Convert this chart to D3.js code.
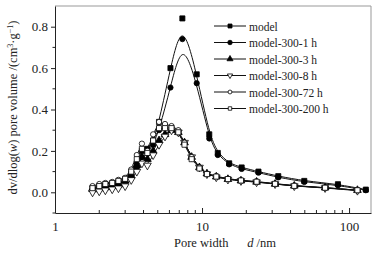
<!DOCTYPE html>
<html>
<head>
<meta charset="utf-8">
<script src="https://cdn.jsdelivr.net/npm/d3@7"></script>
<style>
  body { margin: 0; background: #fff; }
  text { font-family: "Liberation Serif", "DejaVu Serif", serif; fill: #222; }
</style>
</head>
<body>
<div id="chart"></div>
<script>
// pore widths (nm) for the two high-peak series
const widthA = [1.8, 2.0, 2.2, 2.45, 2.7, 3.0, 3.3, 3.6, 3.9, 4.25, 4.65, 5.1, 6.1, 7.35, 9.2, 11.2, 12.8, 15.3, 18.6, 24.2, 33, 49.6, 84, 130];
// pore widths (nm) for the heat-treated low-peak series
const widthB = [1.8, 2.0, 2.2, 2.45, 2.7, 3.0, 3.3, 3.6, 3.9, 4.25, 4.65, 5.1, 5.6, 6.2, 6.9, 7.6, 8.5, 9.6, 10.8, 12.5, 15, 18.4, 23.5, 31.4, 42.4, 68.7, 114];

const model     = [0.02, 0.025, 0.03, 0.04, 0.045, 0.06, 0.09, 0.14, 0.20, 0.21, 0.25, 0.34, 0.60, 0.84, 0.57, 0.28, 0.19, 0.14, 0.12, 0.10, 0.078, 0.055, 0.039, 0.013];
const model1h   = [0.015, 0.02, 0.025, 0.035, 0.04, 0.05, 0.08, 0.12, 0.17, 0.19, 0.23, 0.30, 0.506, 0.74, 0.527, 0.26, 0.18, 0.135, 0.113, 0.095, 0.072, 0.05, 0.034, 0.01];
const model3h   = [0.015, 0.02, 0.025, 0.03, 0.04, 0.055, 0.08, 0.13, 0.17, 0.16, 0.2, 0.25, 0.28, 0.30, 0.29, 0.24, 0.17, 0.12, 0.09, 0.075, 0.063, 0.056, 0.05, 0.04, 0.031, 0.022, 0.01];
const model8h   = [0.0, 0.005, 0.01, 0.015, 0.02, 0.03, 0.06, 0.10, 0.14, 0.13, 0.18, 0.23, 0.27, 0.30, 0.29, 0.24, 0.17, 0.12, 0.088, 0.073, 0.062, 0.055, 0.049, 0.04, 0.03, 0.021, 0.008];
const model72h  = [0.03, 0.04, 0.045, 0.05, 0.06, 0.07, 0.11, 0.18, 0.235, 0.2, 0.28, 0.34, 0.33, 0.32, 0.30, 0.24, 0.17, 0.12, 0.09, 0.078, 0.065, 0.058, 0.052, 0.042, 0.032, 0.023, 0.01];
const model200h = [0.02, 0.03, 0.04, 0.045, 0.055, 0.065, 0.1, 0.16, 0.21, 0.19, 0.25, 0.31, 0.31, 0.31, 0.29, 0.23, 0.16, 0.115, 0.088, 0.076, 0.064, 0.057, 0.051, 0.041, 0.031, 0.022, 0.01];

const seriesNames = ["model", "model-300-1 h", "model-300-3 h", "model-300-8 h", "model-300-72 h", "model-300-200 h"];
const yTicks = [0.0, 0.2, 0.4, 0.6, 0.8];
const xTicks = [1, 10, 100];

const series = [
  {name: seriesNames[0], x: widthA, y: model,     shape: "square",   filled: true},
  {name: seriesNames[1], x: widthA, y: model1h,   shape: "circle",   filled: true},
  {name: seriesNames[2], x: widthB, y: model3h,   shape: "triangle", filled: true},
  {name: seriesNames[3], x: widthB, y: model8h,   shape: "down",     filled: false},
  {name: seriesNames[4], x: widthB, y: model72h,  shape: "circle",   filled: false},
  {name: seriesNames[5], x: widthB, y: model200h, shape: "square",   filled: false}
];

const W = 387, H = 254;
const margin = {top: 6, right: 16, bottom: 41, left: 55},
      width = W - margin.left - margin.right,
      height = H - margin.top - margin.bottom;

const svg = d3.select("#chart")
              .append("svg")
              .attr("width", W)
              .attr("height", H);

const g = svg.append("g")
             .attr("transform", `translate(${margin.left}, ${margin.top})`);

const x = d3.scaleLog()
            .domain([1, 141])
            .range([0, width]);

const y = d3.scaleLinear()
            .domain([-0.1, 0.9])
            .range([height, 0]);

// frame (top and right in grey)
g.append("line").attr("x1", 0).attr("x2", width).attr("y1", 0).attr("y2", 0)
 .attr("stroke", "#999").attr("stroke-width", 1);
g.append("line").attr("x1", width).attr("x2", width).attr("y1", 0).attr("y2", height)
 .attr("stroke", "#999").attr("stroke-width", 1);

// x axis with inward ticks
const minorX = [];
[1, 10, 100].forEach(b => { for (let k = 2; k <= 9; k++) if (b * k <= 141) minorX.push(b * k); });
const xAxis = g.append("g").attr("transform", `translate(0, ${height})`);
xAxis.call(d3.axisBottom(x).tickValues(xTicks).tickFormat(d3.format("d")).tickSizeInner(-5).tickSizeOuter(0).tickPadding(9));
xAxis.append("g").selectAll("line").data(minorX).join("line")
     .attr("x1", d => x(d)).attr("x2", d => x(d)).attr("y1", 0).attr("y2", -3)
     .attr("stroke", "#222");

// y axis with outward ticks
const yAxis = g.append("g");
yAxis.call(d3.axisLeft(y).tickValues(yTicks).tickFormat(d3.format(".1f")).tickSize(4).tickSizeOuter(0).tickPadding(3));
yAxis.append("g").selectAll("line").data([-0.1, 0.1, 0.3, 0.5, 0.7]).join("line")
     .attr("x1", 0).attr("x2", -2.5).attr("y1", d => y(d)).attr("y2", d => y(d))
     .attr("stroke", "#222");

g.selectAll(".tick text").style("font-size", "13px").style("font-family", "Liberation Serif").attr("fill", "#222");
g.selectAll(".domain, .tick line").attr("stroke", "#222");

// axis titles
const xt = svg.append("text")
              .attr("x", 225).attr("y", 247)
              .attr("text-anchor", "middle")
              .style("font-size", "12.5px");
xt.append("tspan").text("Pore width\u2003\u2002");
xt.append("tspan").style("font-style", "italic").text("d");
xt.append("tspan").text(" /nm");

const yt = svg.append("text")
              .attr("transform", `translate(17, ${margin.top + y(0.4) - 2}) rotate(-90)`)
              .attr("text-anchor", "middle")
              .style("font-size", "12.5px");
yt.append("tspan").text("dv/dlog(");
yt.append("tspan").style("font-style", "italic").text("w");
yt.append("tspan").text(") pore volume /(cm");
yt.append("tspan").attr("baseline-shift", "super").style("font-size", "8px").text("3");
yt.append("tspan").text("\u00b7g");
yt.append("tspan").attr("baseline-shift", "super").style("font-size", "8px").text("\u22121");
yt.append("tspan").text(")");

// curves
const line = d3.line()
               .x(d => x(d[0]))
               .y(d => y(d[1]))
               .curve(d3.curveBasis);

const plot = g.append("g");
series.forEach(s => {
  const pts = s.x.map((v, i) => [v, s.y[i]]);
  plot.append("path")
      .datum(pts)
      .attr("d", line)
      .attr("fill", "none")
      .attr("stroke", "#111")
      .attr("stroke-width", 1);
});

function symbolPath(shape, size) {
  if (shape === "square") return d3.symbol(d3.symbolSquare, size)();
  if (shape === "circle") return d3.symbol(d3.symbolCircle, size)();
  return d3.symbol(d3.symbolTriangle, size)();
}

series.forEach(s => {
  const pts = s.x.map((v, i) => [v, s.y[i]]);
  plot.append("g").selectAll("path")
      .data(pts)
      .join("path")
      .attr("d", symbolPath(s.shape, s.shape === "circle" ? 22 : 26))
      .attr("transform", d => `translate(${x(d[0])}, ${y(d[1])})` + (s.shape === "down" ? " rotate(180)" : ""))
      .attr("fill", s.filled ? "#000" : "#fff")
      .attr("stroke", "#000")
      .attr("stroke-width", 0.8);
});

// legend
const legend = svg.append("g").attr("transform", "translate(214, 26)");
series.forEach((s, i) => {
  const row = legend.append("g").attr("transform", `translate(0, ${i * 16.5})`);
  row.append("line").attr("x1", 0).attr("x2", 32).attr("y1", 0).attr("y2", 0)
     .attr("stroke", "#111").attr("stroke-width", 1);
  row.append("path")
     .attr("d", symbolPath(s.shape, s.filled ? 16 : 12))
     .attr("transform", "translate(16, 0)" + (s.shape === "down" ? " rotate(180)" : ""))
     .attr("fill", s.filled ? "#000" : "#fff")
     .attr("stroke", "#000")
     .attr("stroke-width", 0.8);
  row.append("text")
     .attr("x", 35).attr("y", 4.5)
     .style("font-size", "11.5px")
     .text(s.name);
});
</script>
</body>
</html>
